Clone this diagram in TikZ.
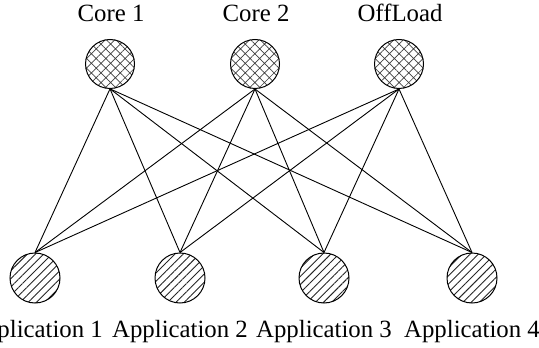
\documentclass[tikz,border=0pt]{standalone}
\usepackage{fontspec}
\setmainfont{Liberation Serif}
\usetikzlibrary{patterns.meta, positioning}

\begin{document}
\begin{tikzpicture}[x=0.5pt, y=-0.5pt,
  every node/.style={font=\fontsize{12.4}{14}\selectfont},
  core/.style={circle, draw, line width=0.5pt, minimum size=24.5pt, inner sep=0pt,
    pattern={Hatch[angle=45, distance=3.4pt, line width=0.35pt]}, pattern color=black!75},
  app/.style={circle, draw, line width=0.5pt, minimum size=25pt, inner sep=0pt,
    pattern={Lines[angle=45, distance=2.9pt, line width=0.45pt]}, pattern color=black!85},
  link/.style={line width=0.45pt}]
  \clip (0,0) rectangle (539,347);
  \useasboundingbox (0,0) rectangle (539,347);
  % cores
  \node[core] (c1) at (110,64) {};
  \node[core] (c2) at (255,64) {};
  \node[core] (off) at (399,64) {};
  \node[anchor=base] (c1lbl) at (111,22) {Core 1};
  \node[anchor=base] (c2lbl) at (256,22) {Core 2};
  \node[anchor=base] (offlbl) at (400,22) {OffLoad};
  % applications
  \node[app] (a1) at (35,278) {};
  \node[app] (a2) at (180,278) {};
  \node[app] (a3) at (324,278) {};
  \node[app] (a4) at (472,278) {};
  \foreach \i/\x in {1/35, 2/180, 3/324, 4/472}
    \node[anchor=base] (a\i lbl) at (\x,337) {Application \i};
  % links
  \foreach \c in {c1, c2, off}
    \foreach \a in {a1, a2, a3, a4}
      \draw[link] (\c.south) -- (\a.north);
\end{tikzpicture}
\end{document}
